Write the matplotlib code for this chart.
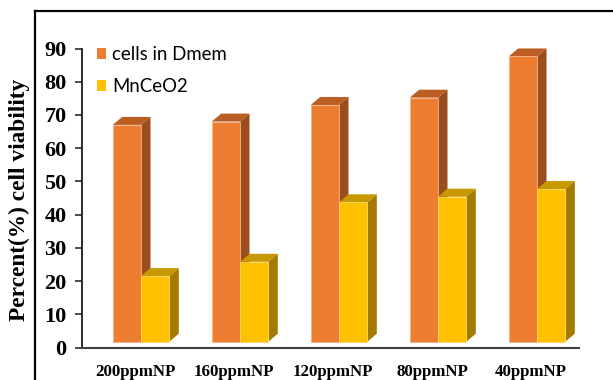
import matplotlib
matplotlib.use("Agg")
import matplotlib.pyplot as plt
from matplotlib.patches import Polygon, Rectangle
from matplotlib.lines import Line2D

# ---- data ----
categories = ["200ppmNP", "160ppmNP", "120ppmNP", "80ppmNP", "40ppmNP"]
cells_in_dmem = [67.0, 68.0, 73.0, 75.2, 87.6]
mnceo2 = [21.5, 25.8, 43.7, 45.4, 47.7]
series_names = ["cells in Dmem", "MnCeO2"]
y_ticks = [0, 10, 20, 30, 40, 50, 60, 70, 80, 90]

# ---- styling ----
W, H, DPI = 613, 380, 100
serif = ["Liberation Serif", "DejaVu Serif"]
sans = ["Lato", "DejaVu Sans"]

colors = {
    "cells in Dmem": dict(front="#ED7D31", top="#BA5E24", side="#9A4E1D", edge="#F6B48A"),
    "MnCeO2": dict(front="#FFC000", top="#C89800", side="#A27B00", edge="#FFD966"),
}

fig = plt.figure(figsize=(W / DPI, H / DPI), dpi=DPI)
fig.patch.set_facecolor("white")

# axes placed in pixel terms: y=0 at 347.5 px, y=90 at 48.5 px, x-axis from 82 to 579 px
ax_l, ax_r, ax_b, ax_t = 82, 579, 347.5, 48.5
ax = fig.add_axes([ax_l / W, 1 - ax_b / H, (ax_r - ax_l) / W, (ax_b - ax_t) / H])

px_per_unit_x = 99.0
x0_px = 141.0  # front centre of first group
xmin = -(x0_px - ax_l) / px_per_unit_x
xmax = (ax_r - x0_px) / px_per_unit_x
ax.set_xlim(xmin, xmax)
ax.set_ylim(0, 90)
px_per_unit_y = (ax_b - ax_t) / 90.0

bar_w = 28.3 / px_per_unit_x
depth_x = 9.5 / px_per_unit_x
depth_y = 8.0 / px_per_unit_y
floor = 5.8 / px_per_unit_y


def draw_box(xl, top, c):
    side = Polygon([(xl + bar_w, floor), (xl + bar_w, top),
                    (xl + bar_w + depth_x, top + depth_y),
                    (xl + bar_w + depth_x, floor + depth_y)],
                   closed=True, facecolor=c["side"], edgecolor="none", clip_on=False)
    lid = Polygon([(xl, top), (xl + bar_w, top),
                   (xl + bar_w + depth_x, top + depth_y), (xl + depth_x, top + depth_y)],
                  closed=True, facecolor=c["top"], edgecolor="none", clip_on=False)
    front = Rectangle((xl, floor), bar_w, top - floor, facecolor=c["front"],
                      edgecolor=c["edge"], linewidth=0.6, clip_on=False)
    for p in (side, lid, front):
        ax.add_patch(p)


for i in range(len(categories)):
    draw_box(i - bar_w, cells_in_dmem[i], colors["cells in Dmem"])
    draw_box(i, mnceo2[i], colors["MnCeO2"])

# axes styling
for s in ("top", "right"):
    ax.spines[s].set_visible(False)
ax.spines["left"].set_color("#1a1a1a")
ax.spines["left"].set_linewidth(1.3)
ax.spines["bottom"].set_color("#404040")
ax.spines["bottom"].set_linewidth(1.5)
ax.set_yticks(y_ticks)
ax.set_yticklabels([str(t) for t in y_ticks], fontfamily=serif, fontweight="bold", fontsize=16)
ax.tick_params(axis="y", direction="out", length=5, width=1.1, pad=6, color="#1a1a1a")
ax.set_xticks([i - 0.06 for i in range(len(categories))])
ax.set_xticklabels(categories, fontfamily=serif, fontweight="bold", fontsize=12.2)
ax.tick_params(axis="x", length=0, pad=12)
ax.set_facecolor("none")

fig.text(19 / W, 1 - 200 / H, "Percent(%) cell viability", rotation=90,
         ha="center", va="center", fontfamily=serif, fontweight="bold", fontsize=16.8)

# legend
for k, (name, yc) in enumerate(zip(series_names, [54, 86])):
    fig.add_artist(Rectangle((97 / W, 1 - (yc + 5) / H), 9 / W, 11 / H,
                             transform=fig.transFigure, facecolor=colors[name]["front"],
                             edgecolor="none"))
    fig.text(112 / W, 1 - yc / H, name, ha="left", va="center",
             fontfamily=sans, fontsize=13.4)

# outer frame
fig.add_artist(Line2D([35 / W, 35 / W], [0, 1 - 11 / H], transform=fig.transFigure,
                      color="black", linewidth=1.6))
fig.add_artist(Line2D([35 / W, 1], [1 - 11 / H, 1 - 11 / H], transform=fig.transFigure,
                      color="black", linewidth=1.6))

fig.savefig("out.png", dpi=DPI)
